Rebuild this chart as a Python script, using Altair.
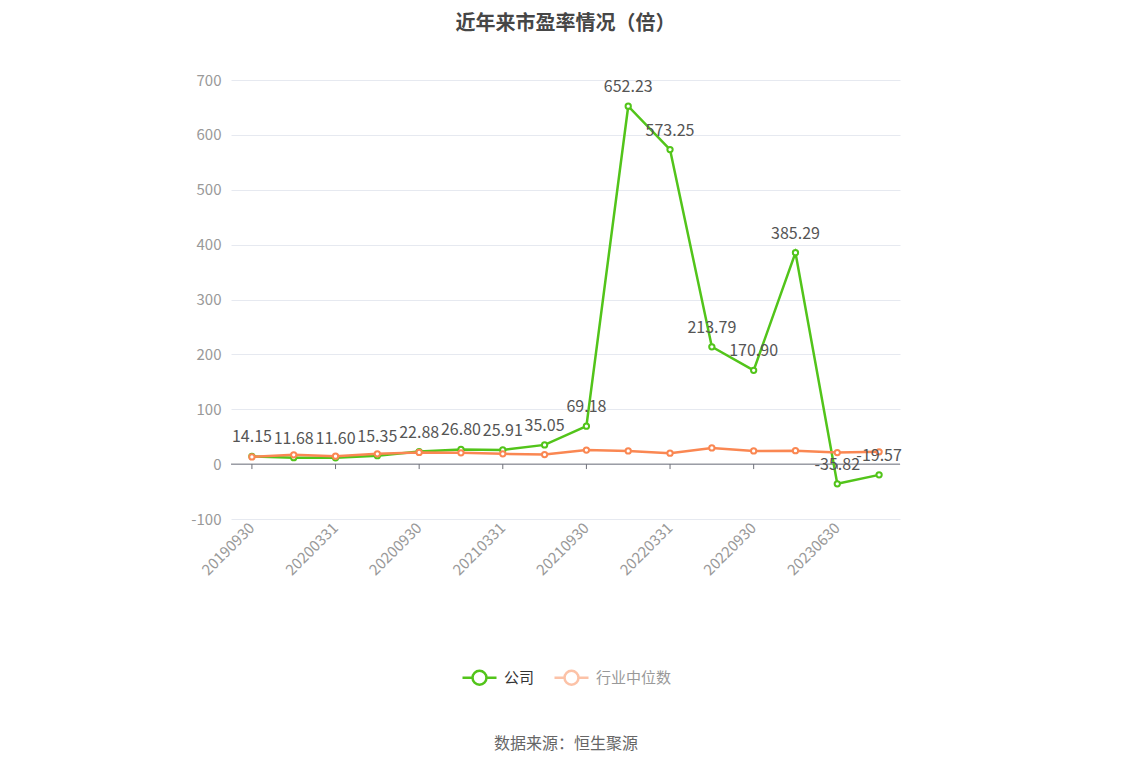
import altair as alt
import pandas as pd

dates = ["20190930", "20191231", "20200331", "20200630", "20200930", "20201231",
         "20210331", "20210630", "20210930", "20211231", "20220331", "20220630",
         "20220930", "20221231", "20230630", "20230930"]
company = [14.15, 11.68, 11.60, 15.35, 22.88, 26.80, 25.91, 35.05, 69.18,
           652.23, 573.25, 213.79, 170.90, 385.29, -35.82, -19.57]
industry = [13.1, 16.9, 14.4, 18.8, 21.3, 20.6, 18.8, 17.5, 25.6,
            24.0, 20.0, 29.5, 24.0, 24.5, 21.0, 22.5]
tick_dates = dates[0::2]
y_ticks = list(range(-100, 701, 100))
series_names = ["公司", "行业中位数"]
colors = ["#52c41a", "#fa8752"]

FONT = "Noto Sans CJK SC"

df = pd.DataFrame({
    "date": dates * 2,
    "series": [series_names[0]] * len(dates) + [series_names[1]] * len(dates),
    "value": company + industry,
})
df_ticks = pd.DataFrame({"date": tick_dates, "y0": [0] * len(tick_dates), "y1": [-9] * len(tick_dates)})
df_zero = pd.DataFrame({"y": [0]})

legend_path = ("M-1,0L-0.41,0M0.41,0L1,0"
               "M-0.41,0A0.41,0.41,0,1,1,0.41,0A0.41,0.41,0,1,1,-0.41,0")

leg = alt.Legend(
    orient="none", legendX=230, legendY=579, direction="horizontal", title=None,
    symbolType=legend_path, symbolSize=1156, symbolStrokeWidth=2.5,
    symbolFillColor="white",
    symbolOpacity=alt.ExprRef("datum.value == '行业中位数' ? 0.5 : 1"),
    labelColor=alt.ExprRef("datum.value == '公司' ? '#333333' : '#999999'"),
    labelFontSize=15, labelFont=FONT, labelOffset=6, columnPadding=14,
)

color = alt.Color("series:N", scale=alt.Scale(domain=series_names, range=colors), legend=leg)

x_enc = alt.X(
    "date:O", sort=dates, scale=alt.Scale(domain=dates),
    axis=alt.Axis(values=tick_dates, labelAngle=-45, domain=False, ticks=False, grid=False,
                  labelColor="#999999", labelFontSize=15, labelFont=FONT, labelPadding=6,
                  title="数据来源：恒生聚源", titleFontSize=16, titleColor="#666666",
                  titleFontWeight="normal", titleFont=FONT, titleY=224, titleBaseline="middle"),
)
y_enc = alt.Y(
    "value:Q", scale=alt.Scale(domain=[-100, 700], nice=False),
    axis=alt.Axis(values=y_ticks, domain=False, ticks=False, labelColor="#999999",
                  labelFontSize=15, labelFont=FONT, gridColor="#e6e9f0",
                  labelExpr="replace(datum.label, '\u2212', '-')",
                  minExtent=45, maxExtent=45, labelPadding=10, title=None),
)

base = alt.Chart(df).encode(x=x_enc, y=y_enc, color=color)

zero = alt.Chart(df_zero).mark_rule(color="#6e7079", strokeWidth=1).encode(y=alt.Y("y:Q"))
ticks = alt.Chart(df_ticks).mark_rule(color="#6e7079", strokeWidth=1).encode(
    x=alt.X("date:O", sort=dates), y=alt.Y("y0:Q"), y2="y1:Q")

comp = base.transform_filter(alt.datum.series == "公司")
ind = base.transform_filter(alt.datum.series == "行业中位数")

comp_line = comp.mark_line(strokeWidth=2.5)
comp_pts = comp.mark_point(shape="circle", size=28, strokeWidth=2, fill="white", filled=False, opacity=1)
ind_line = ind.mark_line(strokeWidth=2.5)
ind_pts = ind.mark_point(shape="circle", size=28, strokeWidth=2, fill="white", filled=False, opacity=1)
labels = alt.Chart(df).transform_filter(alt.datum.series == "公司").transform_calculate(
    lbl="replace(format(datum.value, '.2f'), '\u2212', '-')"
).mark_text(
    dy=-19, fontSize=16, color="#555555", font=FONT
).encode(x=alt.X("date:O", sort=dates), y=alt.Y("value:Q"), text="lbl:N")

chart = alt.layer(zero, ticks, comp_line, comp_pts, ind_line, ind_pts, labels).properties(
    width=669, height=439,
    padding={"left": 178, "top": 6, "right": 10, "bottom": 8},
    title=alt.Title("近年来市盈率情况（倍）", fontSize=20, fontWeight="bold", color="#464646",
                    font=FONT, offset=39, anchor="middle"),
).configure_view(stroke=None)

chart.save("out.html", embed_options={"renderer": "svg", "actions": False})
